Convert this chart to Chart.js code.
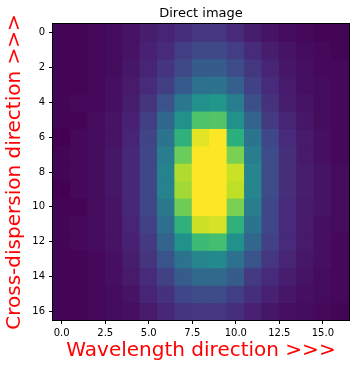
<!DOCTYPE html>
<html><head><meta charset="utf-8">
<script src="https://cdn.jsdelivr.net/npm/chart.js@4.4.1/dist/chart.umd.min.js"></script>
<style>html,body{margin:0;padding:0;background:#fff}#wrap{width:357px;height:369px}</style>
</head><body><div id="wrap"><canvas id="c" width="357" height="369"></canvas></div>
<script>
// pixel columns (wavelength direction) and rows (cross-dispersion direction)
const columns = [0,1,2,3,4,5,6,7,8,9,10,11,12,13,14,15,16];
const rows    = [0,1,2,3,4,5,6,7,8,9,10,11,12,13,14,15,16];
const xTicks = [0, 2.5, 5, 7.5, 10, 12.5, 15];
const yTicks = [0, 2, 4, 6, 8, 10, 12, 14, 16];

// normalised intensity, one array per image row
const row00 = [.01,.01,.02,.03,.05,.08,.10,.13,.16,.16,.12,.08,.05,.03,.02,.01,.01];
const row01 = [.01,.01,.02,.03,.05,.09,.12,.18,.22,.22,.18,.12,.08,.05,.03,.02,.01];
const row02 = [.01,.01,.02,.03,.06,.10,.15,.22,.29,.29,.23,.16,.10,.06,.04,.02,.02];
const row03 = [.01,.01,.02,.04,.07,.12,.18,.28,.37,.38,.30,.19,.12,.07,.04,.03,.02];
const row04 = [.01,.02,.02,.04,.08,.15,.25,.40,.50,.52,.42,.24,.14,.08,.05,.03,.02];
const row05 = [.01,.01,.03,.05,.09,.18,.33,.50,.72,.73,.50,.32,.17,.10,.06,.03,.02];
const row06 = [.00,.02,.03,.05,.10,.20,.38,.64,.96,1.0,.63,.38,.21,.12,.07,.04,.02];
const row07 = [.01,.02,.03,.06,.11,.21,.42,.77,1.0,1.0,.80,.42,.23,.13,.07,.04,.02];
const row08 = [.01,.02,.03,.06,.11,.21,.44,.88,1.0,1.0,.92,.45,.23,.13,.08,.05,.03];
const row09 = [.00,.02,.03,.06,.11,.21,.44,.86,1.0,1.0,.90,.45,.23,.13,.08,.05,.03];
const row10 = [.01,.01,.03,.05,.11,.21,.40,.78,1.0,1.0,.80,.42,.21,.12,.07,.05,.03];
const row11 = [.01,.02,.03,.05,.10,.19,.36,.64,.92,.94,.64,.38,.21,.12,.07,.04,.03];
const row12 = [.01,.02,.03,.05,.09,.17,.32,.50,.68,.70,.50,.33,.19,.12,.07,.04,.02];
const row13 = [.01,.01,.02,.04,.08,.15,.26,.38,.45,.47,.37,.26,.16,.10,.06,.04,.02];
const row14 = [.01,.01,.02,.04,.07,.12,.19,.29,.34,.34,.29,.17,.12,.08,.05,.03,.02];
const row15 = [.01,.01,.02,.03,.05,.10,.14,.21,.23,.23,.18,.13,.09,.06,.04,.03,.02];
const row16 = [.01,.01,.02,.03,.04,.07,.11,.15,.16,.16,.13,.09,.06,.04,.03,.02,.01];
const image = [row00,row01,row02,row03,row04,row05,row06,row07,row08,row09,row10,row11,row12,row13,row14,row15,row16];

// viridis colormap stops
const VIRIDIS = [[68,1,84],[72,36,117],[65,68,135],[53,95,141],[42,120,142],[33,145,140],[34,168,132],[68,191,112],[122,209,81],[189,223,38],[253,231,37]];
function viridis(t){
  t = Math.max(0, Math.min(1, t));
  const p = t * (VIRIDIS.length - 1), i = Math.min(Math.floor(p), VIRIDIS.length - 2), f = p - i;
  const a = VIRIDIS[i], b = VIRIDIS[i+1];
  return 'rgb(' + a.map((v,k) => Math.round(v + (b[k]-v)*f)).join(',') + ')';
}
const vmin = Math.min(...image.flat()), vmax = Math.max(...image.flat());

const FONT = "'DejaVu Sans', 'Liberation Sans', sans-serif";

const datasets = rows.map(r => ({
  data: columns.map(c => ({x: c, y: [r - 0.5, r + 0.5]})),
  backgroundColor: columns.map(c => viridis((image[r][c] - vmin) / (vmax - vmin))),
  borderWidth: 0,
  inflateAmount: 0.5,
  barPercentage: 1,
  categoryPercentage: 1,
  grouped: false
}));

const frame = {
  id: 'frame',
  afterDraw(chart){
    const {ctx, chartArea: a} = chart;
    ctx.save();
    ctx.strokeStyle = '#000';
    ctx.lineWidth = 1;
    ctx.strokeRect(a.left - 0.5, a.top - 0.5, a.right - a.left + 1, a.bottom - a.top + 1);
    ctx.restore();
  }
};

new Chart(document.getElementById('c'), {
  type: 'bar',
  data: { datasets },
  options: {
    responsive: false,
    devicePixelRatio: 1,
    animation: false,
    layout: { padding: { left: 0, right: 8, top: 0, bottom: 0 } },
    plugins: {
      legend: { display: false },
      tooltip: { enabled: false },
      title: {
        display: true, text: 'Direct image', fullSize: false, color: '#000',
        font: { family: FONT, size: 13, weight: 'normal' },
        padding: { top: 5.8, bottom: 2.6 }
      }
    },
    scales: {
      x: {
        type: 'linear', min: -0.5, max: 16.5, offset: false,
        afterBuildTicks: s => { s.ticks = xTicks.map(v => ({ value: v })); },
        afterFit: s => { s.height = 49; },
        ticks: { color: '#000', font: { family: FONT, size: 10 }, padding: 3, maxRotation: 0,
                 callback: v => Number(v).toFixed(1) },
        grid: { display: true, drawOnChartArea: false, drawTicks: true, tickLength: 4, color: '#000', offset: false },
        border: { display: false },
        title: { display: true, text: 'Wavelength direction >>>', color: '#ff0000',
                 font: { family: FONT, size: 20 }, padding: { top: 0, bottom: 6 } }
      },
      y: {
        type: 'linear', min: -0.5, max: 16.5, reverse: true,
        afterBuildTicks: s => { s.ticks = yTicks.map(v => ({ value: v })); },
        afterFit: s => { s.width = 53; },
        ticks: { color: '#000', font: { family: FONT, size: 10 }, padding: 4,
                 callback: v => String(v) },
        grid: { display: true, drawOnChartArea: false, drawTicks: true, tickLength: 4, color: '#000' },
        border: { display: false },
        title: { display: true, text: 'Cross-dispersion direction >>>', color: '#ff0000',
                 font: { family: FONT, size: 20 }, padding: { top: 2.7, bottom: 0 } }
      }
    }
  },
  plugins: [frame]
});
</script></body></html>
